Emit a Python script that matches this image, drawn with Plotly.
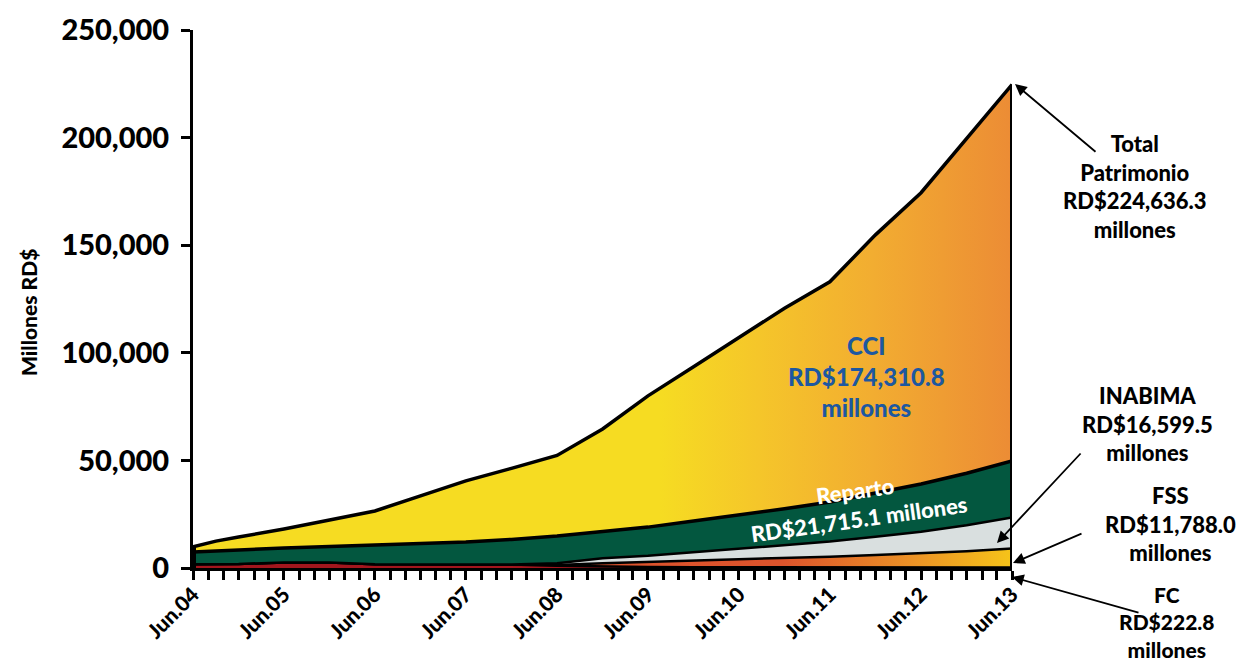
import plotly.graph_objects as go

# ---------------- data (millones RD$) ----------------
dates = ["2004-06-01", "2004-09-01", "2004-12-01", "2005-06-01", "2005-12-01",
         "2006-06-01", "2006-12-01", "2007-06-01", "2007-12-01", "2008-06-01",
         "2008-12-01", "2009-06-01", "2009-12-01", "2010-06-01", "2010-12-01",
         "2011-06-01", "2011-12-01", "2012-06-01", "2012-12-01", "2013-06-01"]

fc = [1800, 1800, 1900, 2600, 2600, 1700, 1700, 1700, 1600, 1000,
      600, 450, 380, 330, 300, 280, 260, 250, 240, 223]
fss = [0, 0, 0, 0, 0, 0, 0, 0, 0, 400,
       1600, 2300, 3000, 3700, 4300, 5000, 5800, 6600, 7600, 8800]
inabima = [0, 0, 0, 0, 0, 0, 0, 0, 0, 800,
           2300, 2900, 4000, 5000, 6000, 7000, 8500, 10000, 12000, 14500]
reparto = [5600, 6100, 6600, 6700, 7400, 9000, 9700, 10400, 11700, 12700,
           12500, 13350, 14420, 15570, 16900, 18420, 20240, 22150, 24160, 26227]
cci = [2400, 4600, 5900, 8800, 12300, 15800, 22100, 28400, 33000, 37400,
       47600, 61000, 71700, 82400, 93200, 102300, 120000, 135400, 155700, 174886]

tick_dates = ["2004-06-01", "2005-06-01", "2006-06-01", "2007-06-01", "2008-06-01",
              "2009-06-01", "2010-06-01", "2011-06-01", "2012-06-01", "2013-06-01"]
tick_labels = ["Jun.04", "Jun.05", "Jun.06", "Jun.07", "Jun.08",
               "Jun.09", "Jun.10", "Jun.11", "Jun.12", "Jun.13"]
y_ticks = [0, 50000, 100000, 150000, 200000, 250000]

total = [a + b + c + d + e for a, b, c, d, e in zip(fc, fss, inabima, reparto, cci)]

FONT = "Lato"
WEIGHT = 900
fig = go.Figure()

fig.add_trace(go.Scatter(x=dates, y=fc, stackgroup="s", mode="lines",
                         line=dict(color="black", width=2.5), fillcolor="#a3161d",
                         name="FC", hoverinfo="skip"))
fig.add_trace(go.Scatter(x=dates, y=fss, stackgroup="s", mode="lines",
                         line=dict(color="black", width=2.5),
                         fillgradient=dict(type="horizontal",
                                           colorscale=[[0, "#dc4f2c"], [0.72, "#dd542c"],
                                                       [0.88, "#ec9326"], [1, "#f6c419"]]),
                         name="FSS", hoverinfo="skip"))
fig.add_trace(go.Scatter(x=dates, y=inabima, stackgroup="s", mode="lines",
                         line=dict(color="black", width=2.5), fillcolor="#d9dfdf",
                         name="INABIMA", hoverinfo="skip"))
fig.add_trace(go.Scatter(x=dates, y=reparto, stackgroup="s", mode="lines",
                         line=dict(color="black", width=3.5), fillcolor="#03573f",
                         name="Reparto", hoverinfo="skip"))
fig.add_trace(go.Scatter(x=dates, y=cci, stackgroup="s", mode="lines",
                         line=dict(color="black", width=3.5),
                         fillgradient=dict(type="horizontal",
                                           colorscale=[[0, "#f6dc22"], [0.57, "#f6dc22"],
                                                       [0.69, "#f5c62a"], [0.83, "#f2ad31"],
                                                       [1, "#ec8c35"]]),
                         name="CCI", hoverinfo="skip"))
# right and left edges of the stacked shape
fig.add_trace(go.Scatter(x=[dates[-1], dates[-1]], y=[0, total[-1]], mode="lines",
                         line=dict(color="black", width=4), hoverinfo="skip"))
fig.add_trace(go.Scatter(x=[dates[0], dates[0]], y=[0, total[0]], mode="lines",
                         line=dict(color="black", width=6), hoverinfo="skip"))

# page coordinates of the plot area (the page body has an 8px margin)
OFF = 8
L, R, T, B = 193, 1012, 30, 568
W, H = 1247 - OFF, 664 - OFF


def px(xp):
    return (xp - L) / (R - L)


def py(yp):
    return (B - yp) / (B - T)


annotations = []


def text_ann(txt, cx, cy, size, color="black", angle=0):
    annotations.append(dict(text=txt, x=px(cx), y=py(cy), xref="paper", yref="paper",
                            xanchor="center", yanchor="middle", align="center",
                            showarrow=False, textangle=angle,
                            font=dict(family=FONT, size=size, color=color, weight=WEIGHT)))


def arrow_ann(hx, hy, tx, ty):
    annotations.append(dict(text="", x=px(hx), y=py(hy), xref="paper", yref="paper",
                            showarrow=True, ax=tx - hx, ay=ty - hy,
                            arrowhead=2, arrowsize=1.3, arrowwidth=1.8,
                            arrowcolor="black"))


text_ann("Total<br>Patrimonio<br>RD$224,636.3<br>millones", 1135, 186, 22)
text_ann("INABIMA<br>RD$16,599.5<br>millones", 1147, 424, 22)
text_ann("FSS<br>RD$11,788.0<br>millones", 1170, 524, 22)
text_ann("FC<br>RD$222.8<br>millones", 1167, 622, 21)
text_ann("CCI<br>RD$174,310.8<br>millones", 866, 376, 24, color="#1d58a0")
text_ann("Reparto<br>RD$21,715.1 millones", 857, 505, 22, color="white", angle=-8)
annotations.append(dict(text="Millones RD$", x=px(28), y=py(313), xref="paper", yref="paper",
                        xanchor="center", yanchor="middle", showarrow=False, textangle=-90,
                        font=dict(family=FONT, size=21, color="black", weight=WEIGHT)))

arrow_ann(1015, 84, 1097, 153)
arrow_ann(997, 543, 1082, 452)
arrow_ann(1013, 563, 1083, 533)
arrow_ann(1012, 577, 1140, 613)

fig.update_layout(
    width=W, height=H,
    margin=dict(l=L - OFF, r=W - (R - OFF), t=T - OFF, b=H - (B - OFF), pad=0,
                autoexpand=False),
    paper_bgcolor="white", plot_bgcolor="white",
    showlegend=False,
    annotations=annotations,
    xaxis=dict(type="date", range=[dates[0], dates[-1]], tickmode="array",
               tickvals=tick_dates, ticktext=tick_labels, tickangle=-45,
               tickfont=dict(family=FONT, size=21, color="black", weight=WEIGHT),
               ticks="outside", ticklen=9, tickwidth=3, tickcolor="black",
               ticklabelstandoff=-6,
               minor=dict(dtick="M2", tick0="2004-06-01", ticks="outside", ticklen=9,
                          tickwidth=3, tickcolor="black", showgrid=False),
               showline=True, linecolor="black", linewidth=3, showgrid=False,
               zeroline=False, fixedrange=True),
    yaxis=dict(range=[0, 250000], tickmode="array", tickvals=y_ticks,
               tickformat=",", ticks="outside", ticklen=9, tickwidth=3,
               tickcolor="black", ticklabelstandoff=6,
               tickfont=dict(family=FONT, size=29, color="black", weight=WEIGHT),
               showline=True, linecolor="black", linewidth=3, showgrid=False,
               zeroline=False, fixedrange=True),
)

fig.write_html("out.html")
